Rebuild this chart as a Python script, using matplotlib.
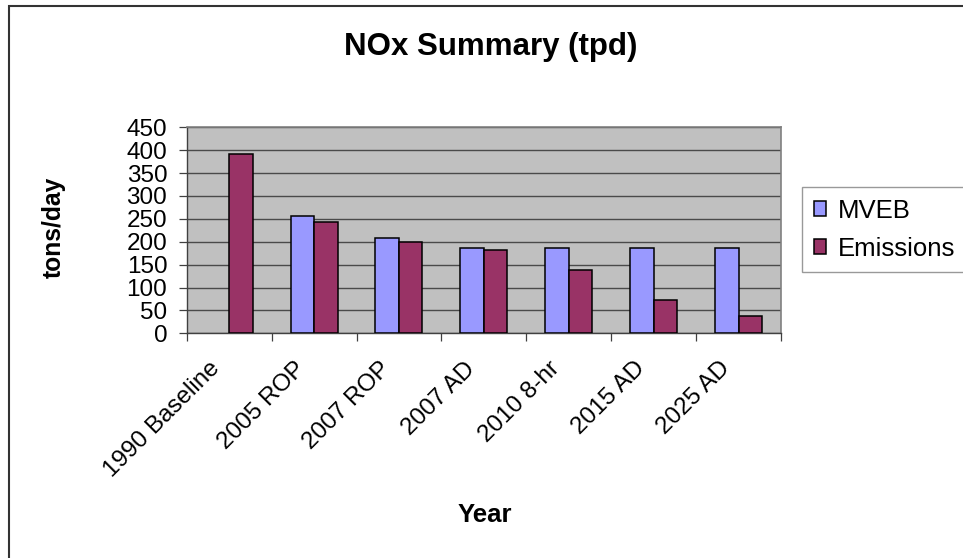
import matplotlib
matplotlib.use('Agg')
import matplotlib.pyplot as plt
import matplotlib.transforms as mtransforms
from matplotlib.patches import Rectangle
import numpy as np

plt.rcParams['font.family'] = ['Liberation Sans', 'DejaVu Sans']

# ── Data ──────────────────────────────────────────────────────────────────────
categories = ["1990 Baseline", "2005 ROP", "2007 ROP", "2007 AD",
              "2010 8-hr", "2015 AD", "2025 AD"]
mveb      = [np.nan, 256, 208, 187, 187, 187, 187]
emissions = [392, 243, 199, 182, 138, 73, 38]
yticks    = [0, 50, 100, 150, 200, 250, 300, 350, 400, 450]

MVEB_C = "#9999FF"
EMIS_C = "#993366"

fig = plt.figure(figsize=(9.63, 5.58), dpi=100)
ax = fig.add_axes([186.7 / 963, 1 - 333.3 / 558, (781 - 186.7) / 963, (333.3 - 127.3) / 558])
ax.set_facecolor("#C0C0C0")

x = np.arange(len(categories))
bw = 0.277
ax.bar(x + 0.5 - bw, mveb, width=bw, align="edge", color=MVEB_C,
       edgecolor="black", lw=1.1, label="MVEB", zorder=3)
ax.bar(x + 0.5, emissions, width=bw, align="edge", color=EMIS_C,
       edgecolor="black", lw=1.1, label="Emissions", zorder=3)

ax.set_xlim(0, len(categories))
ax.set_ylim(0, 450)
ax.set_yticks(yticks)
ax.set_yticklabels([str(v) for v in yticks], fontsize=17.5)
ax.yaxis.grid(True, color="#4a4a4a", lw=1.0, zorder=1)
ax.set_axisbelow(True)

ax.set_xticks(np.arange(len(categories) + 1))
ax.set_xticklabels([])
ax.tick_params(axis="both", direction="out", length=6, width=0.9, color="#404040")
ax.tick_params(axis="y", pad=8)

for s in ["top", "right"]:
    ax.spines[s].set_color("#808080")
    ax.spines[s].set_linewidth(1.2)
for s in ["left", "bottom"]:
    ax.spines[s].set_color("#404040")
    ax.spines[s].set_linewidth(1.0)

# rotated category labels, end anchored just left of category centre
base = mtransforms.blended_transform_factory(ax.transData, ax.transAxes)
off = mtransforms.ScaledTranslation(-14.5 / 72, -17.5 / 72, fig.dpi_scale_trans)
for i, lab in enumerate(categories):
    ax.text(i + 0.5, 0, lab, transform=base + off, rotation=45,
            rotation_mode="anchor", ha="right", va="top", fontsize=17.5)

fig.text(491 / 963, 1 - 47 / 558, "NOx Summary (tpd)", ha="center", va="center",
         fontsize=22.5, fontweight="bold")
fig.text(54 / 963, 1 - 227 / 558, "tons/day", rotation=90, ha="center",
         va="center", fontsize=17.7, fontweight="bold")
fig.text(485 / 963, 1 - 515 / 558, "Year", ha="center", va="center",
         fontsize=18.5, fontweight="bold")

leg = fig.legend(loc="upper left", bbox_to_anchor=(802 / 963, 1 - 187 / 558),
                 fontsize=18.5, frameon=True, fancybox=False, borderaxespad=0,
                 handlelength=0.5, handleheight=0.5, handletextpad=0.45,
                 labelspacing=0.55, borderpad=0.45)
leg.get_frame().set_edgecolor("#808080")
leg.get_frame().set_linewidth(1.0)

# outer chart border (runs off right / bottom edges)
top = 1 - 6 / 558
fig.patches.append(Rectangle((8.5 / 963, -0.2), 1.2, top + 0.2,
                             transform=fig.transFigure, fill=False,
                             edgecolor="#333333", lw=1.5))

fig.savefig("out.png", dpi=100)
